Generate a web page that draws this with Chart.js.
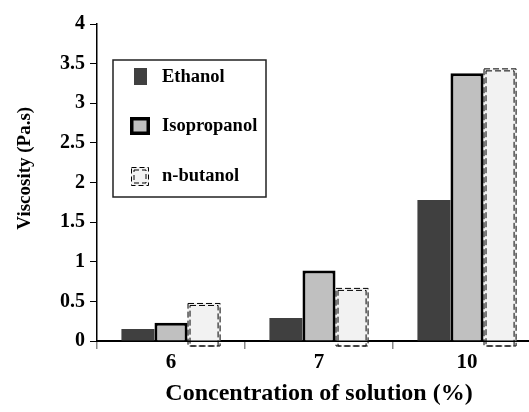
<!DOCTYPE html>
<html>
<head>
<meta charset="utf-8">
<script src="https://cdn.jsdelivr.net/npm/chart.js@4.4.0/dist/chart.umd.min.js"></script>
<style>
  html, body { margin: 0; padding: 0; background: #fff; overflow: hidden; }
  #wrap { width: 545px; height: 412px; position: relative; }
</style>
</head>
<body>
<div id="wrap"><canvas id="grafico"></canvas></div>
<script>
// dados
const concentracoes = ['6', '7', '10'];
const etanol = [0.15, 0.29, 1.78];
const isopropanol = [0.23, 0.89, 3.38];
const nbutanol = [0.48, 0.67, 3.44];
const ticksY = [0, 0.5, 1, 1.5, 2, 2.5, 3, 3.5, 4];

const fonte = 'Liberation Serif, Times New Roman, serif';

// contorno tracejado duplo do n-butanol (usa as barras ja posicionadas pelo Chart.js)
const tracejado = {
  id: 'tracejado',
  afterDatasetsDraw(chart) {
    const meta = chart.getDatasetMeta(2);
    const ctx = chart.ctx;
    ctx.save();
    ctx.strokeStyle = '#000';
    ctx.lineWidth = 1;
    ctx.setLineDash([6, 3]);
    meta.data.forEach(bar => {
      const p = bar.getProps(['x', 'y', 'width', 'base'], true);
      const x0 = p.x - p.width / 2, x1 = p.x + p.width / 2;
      ctx.strokeRect(x0 + 0.5, p.y + 0.5, x1 - x0 - 1, p.base - p.y + 5);
      ctx.strokeRect(x0 + 2.5, p.y + 2.5, x1 - x0 - 5, p.base - p.y + 3);
    });
    ctx.restore();
  }
};

// legenda dentro da area do grafico
const legendaCaixa = {
  id: 'legendaCaixa',
  afterDraw(chart) {
    const ctx = chart.ctx;
    ctx.save();
    ctx.strokeStyle = '#222';
    ctx.lineWidth = 1.5;
    ctx.strokeRect(113, 60, 153, 137);
    ctx.font = 'bold 18.5px ' + fonte;
    ctx.textBaseline = 'middle';
    const linhas = [77, 126, 176];
    const nomes = chart.data.datasets.map(d => d.label);
    // Ethanol
    ctx.fillStyle = '#404040';
    ctx.fillRect(134, 68, 13, 17);
    // Isopropanol
    ctx.fillStyle = '#000';
    ctx.fillRect(130, 117, 20, 18);
    ctx.fillStyle = '#c0c0c0';
    ctx.fillRect(133.5, 120.5, 13, 11);
    // n-butanol
    ctx.fillStyle = '#f2f2f2';
    ctx.fillRect(131, 167, 18, 19);
    ctx.strokeStyle = '#000';
    ctx.lineWidth = 1;
    ctx.setLineDash([5, 3]);
    ctx.strokeRect(131.5, 167.5, 17, 18);
    ctx.strokeRect(134, 170, 12, 13);
    ctx.setLineDash([]);
    ctx.fillStyle = '#000';
    nomes.forEach((n, i) => ctx.fillText(n, 162, linhas[i]));
    ctx.restore();
  }
};

new Chart(document.getElementById('grafico'), {
  type: 'bar',
  data: {
    labels: concentracoes,
    datasets: [
      { label: 'Ethanol', data: etanol, backgroundColor: '#404040', borderWidth: 0 },
      { label: 'Isopropanol', data: isopropanol, backgroundColor: '#c0c0c0', borderColor: '#000', borderWidth: 3 },
      { label: 'n-butanol', data: nbutanol, backgroundColor: '#f2f2f2', borderWidth: 0 }
    ]
  },
  options: {
    responsive: true,
    maintainAspectRatio: false,
    animation: false,
    categoryPercentage: 0.67,
    barPercentage: 1,
    layout: { padding: { top: 24, right: 4, left: 0, bottom: 0 } },
    plugins: {
      legend: { display: false },
      tooltip: { enabled: false }
    },
    scales: {
      x: {
        afterFit: s => { s.height = 71; },
        grid: { drawOnChartArea: false, color: '#888', tickLength: 8, lineWidth: 1.5 },
        border: { color: '#000', width: 2 },
        ticks: { color: '#000', padding: 1, font: { family: fonte, size: 21, weight: 'bold' } },
        title: {
          display: true,
          text: 'Concentration of solution (%)',
          color: '#000',
          font: { family: fonte, size: 24, weight: 'bold' },
          padding: { top: 0, bottom: 4 }
        }
      },
      y: {
        min: 0,
        max: 4,
        afterFit: s => { s.width = 97; },
        afterBuildTicks: s => { s.ticks = ticksY.map(v => ({ value: v })); },
        grid: { drawOnChartArea: false, color: '#000', tickLength: 7 },
        border: { color: '#000', width: 1.5 },
        ticks: {
          color: '#000',
          padding: 5,
          font: { family: fonte, size: 20, weight: 'bold' },
          callback: v => String(v)
        },
        title: {
          display: true,
          text: '      Viscosity (Pa.s)',
          color: '#000',
          font: { family: fonte, size: 19, weight: 'bold' },
          padding: { top: 14, bottom: 0 }
        }
      }
    }
  },
  plugins: [tracejado, legendaCaixa]
});
</script>
</body>
</html>
